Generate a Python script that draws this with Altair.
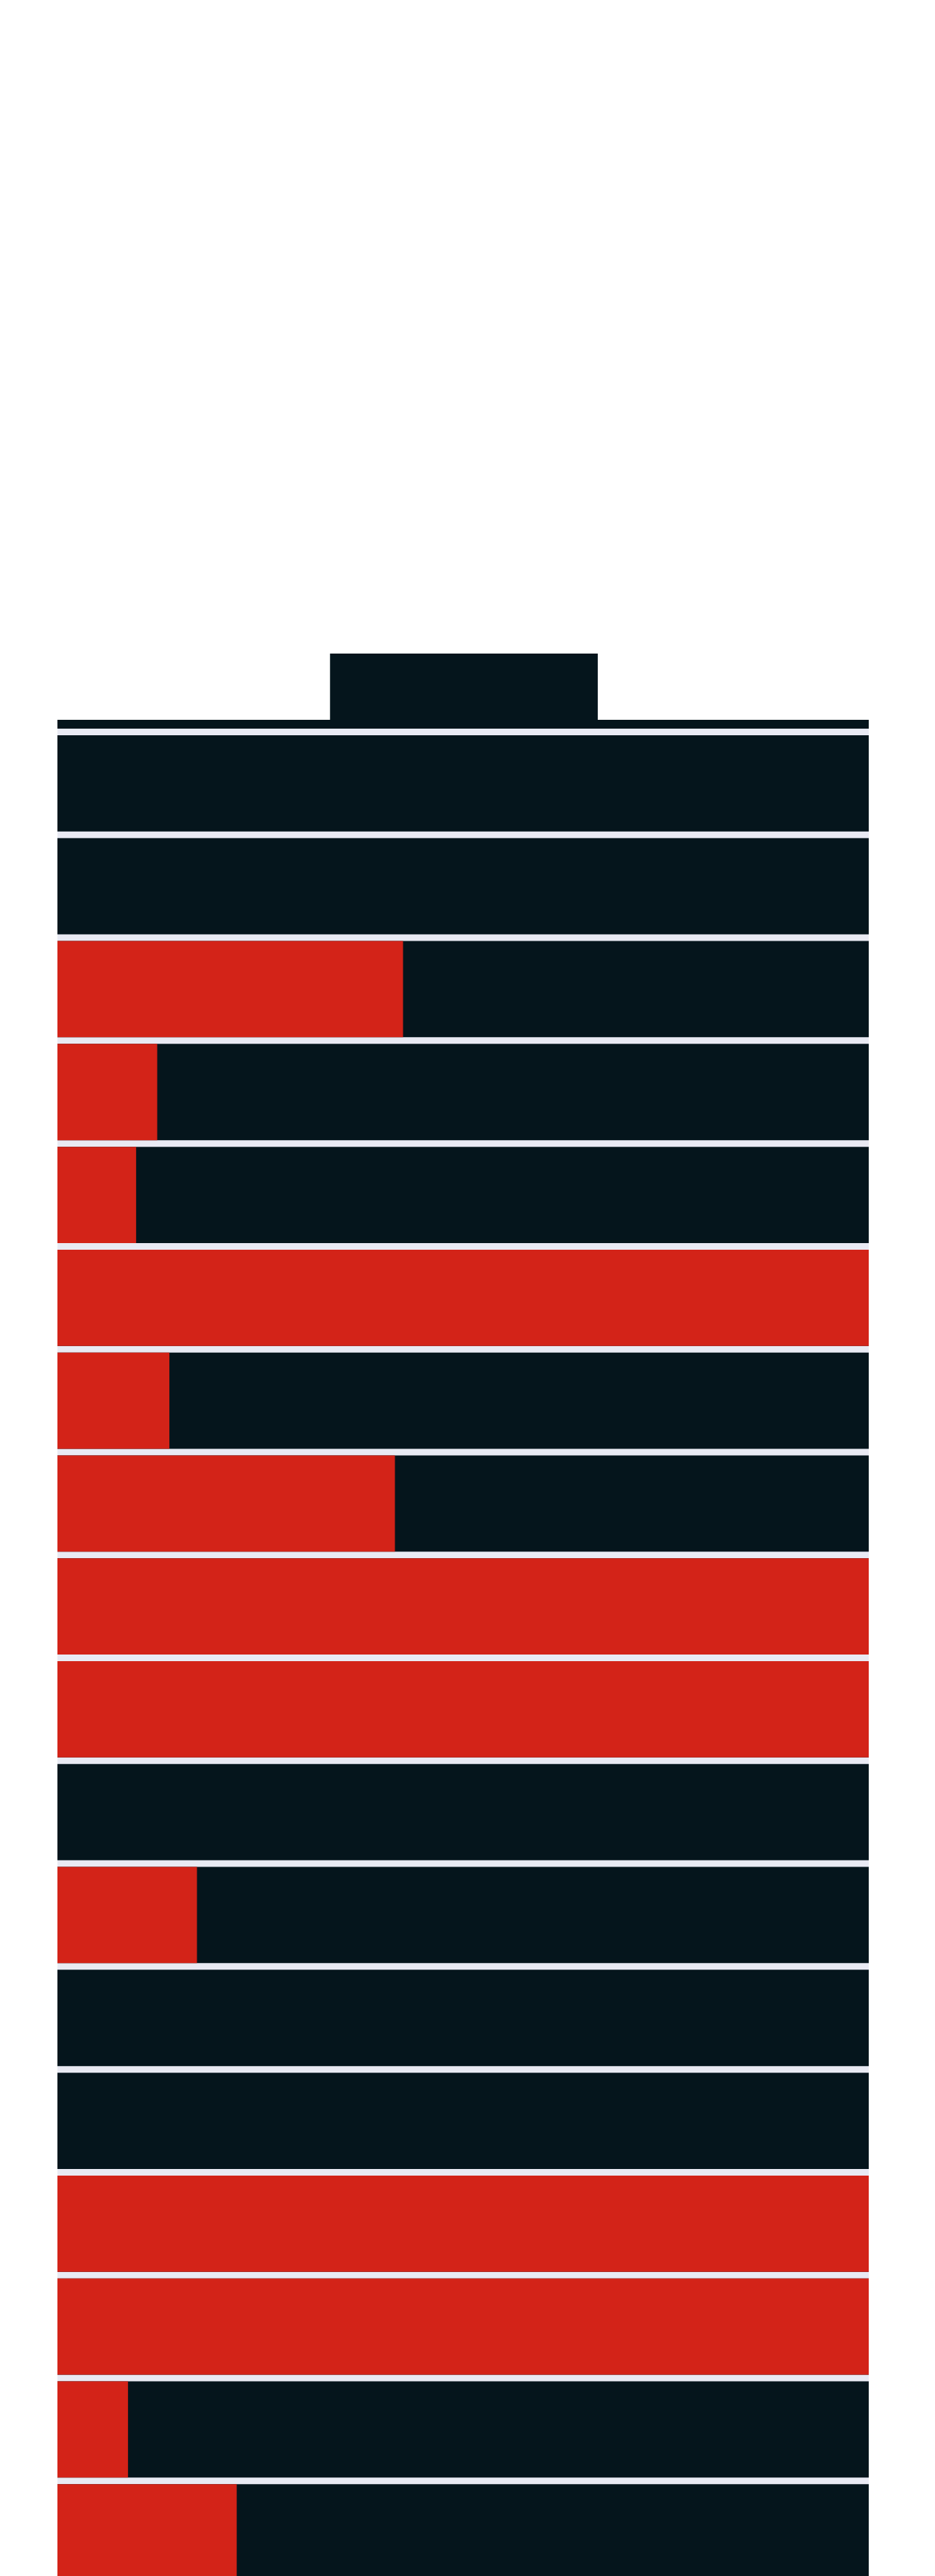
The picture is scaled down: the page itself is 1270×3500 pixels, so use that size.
import altair as alt
import pandas as pd

# Battery chart: 18 cells, each filled (red) by a share in percent
cells = list(range(18))
fill_pct = [0, 0, 42.6, 12.3, 9.7, 100, 13.8, 41.6, 100, 100, 0, 17.2, 0, 0, 100, 100, 8.7, 22.1]

# battery terminal (cap) span in percent of body width
cap_span = [33.6, 66.6]

BLACK = "#05151c"
RED = "#d32318"
STRIPE = "#e9eaf3"

GAP = 0.0644      # separator, in cell units
FRAME = 0.0858    # black rim above first separator
CAP_TOP = -0.73
Y_END = 18.1

df = pd.DataFrame({"cell": cells, "fill": fill_pct})
df["top"] = df["cell"] + GAP
df["bottom"] = df["cell"] + 1.0
df["zero"] = 0.0
df["full"] = 100.0

xs = alt.Scale(domain=[0, 100], nice=False, zero=False)
ys = alt.Scale(domain=[CAP_TOP, Y_END], reverse=True, nice=False, zero=False)


def block(x0, x1, y0, y1, color):
    d = pd.DataFrame({"x": [x0], "x2": [x1], "y": [y0], "y2": [y1]})
    return alt.Chart(d).mark_rect(color=color).encode(
        x=alt.X("x:Q", scale=xs, axis=None),
        x2="x2:Q",
        y=alt.Y("y:Q", scale=ys, axis=None),
        y2="y2:Q",
    )


frame = block(0, 100, -FRAME, Y_END, BLACK)
stripes = block(0, 100, 0, Y_END, STRIPE)
cap = block(cap_span[0], cap_span[1], CAP_TOP, -FRAME + 0.01, BLACK)

empty = alt.Chart(df).mark_rect(color=BLACK).encode(
    x=alt.X("zero:Q", scale=xs, axis=None),
    x2="full:Q",
    y=alt.Y("top:Q", scale=ys, axis=None),
    y2="bottom:Q",
)
filled = alt.Chart(df).mark_rect(color=RED).encode(
    x=alt.X("zero:Q", scale=xs, axis=None),
    x2="fill:Q",
    y=alt.Y("top:Q", scale=ys, axis=None),
    y2="bottom:Q",
)

chart = (
    alt.layer(frame, stripes, cap, empty, filled)
    .properties(
        width=1102,
        height=2632,
        padding={"left": 70, "top": 880, "right": 70, "bottom": 0},
        autosize=alt.AutoSizeParams(type="none"),
        background="white",
    )
    .configure_view(strokeWidth=0)
)

chart.save("out.html", embed_options={"renderer": "svg", "actions": False})
